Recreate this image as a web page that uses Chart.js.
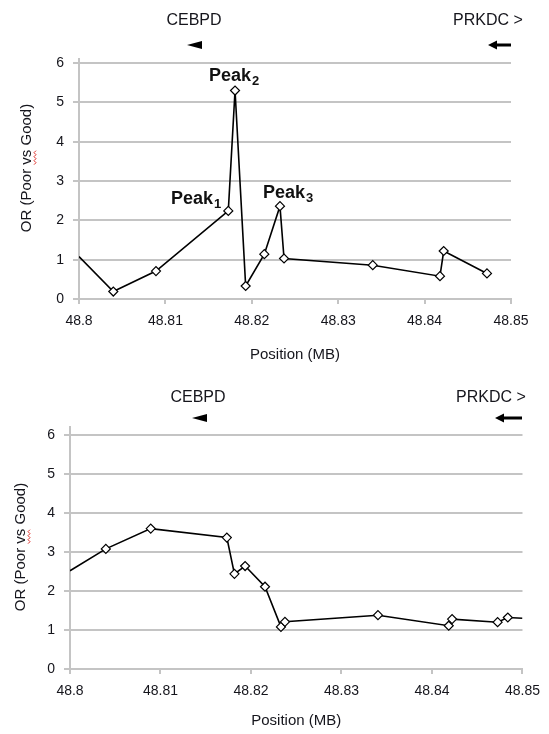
<!DOCTYPE html>
<html>
<head>
<meta charset="utf-8">
<script src="https://cdn.jsdelivr.net/npm/chart.js@4.4.0/dist/chart.umd.min.js"></script>
<style>
  html, body { margin: 0; padding: 0; background: #fff; }
  .panel { position: absolute; left: 0; width: 549px; height: 367px; }
  #panelTop { top: 0; }
  #panelBottom { top: 367px; }
</style>
</head>
<body>
<div class="panel" id="panelTop"><canvas id="chartTop"></canvas></div>
<div class="panel" id="panelBottom"><canvas id="chartBottom"></canvas></div>
<script>
// Posiçăo (Mb) e OR de cada SNP; o primeiro/último ponto fica na borda do eixo
const topPositions = [48.8, 48.80397, 48.80891, 48.81728, 48.81806, 48.81929, 48.82145, 48.82326, 48.82373, 48.8340, 48.84178, 48.84221, 48.84722];
const topOR = [1.08, 0.19, 0.71, 2.24, 5.3, 0.33, 1.14, 2.36, 1.03, 0.86, 0.58, 1.22, 0.65];

const bottomPositions = [48.8, 48.80396, 48.80892, 48.81733, 48.81817, 48.81935, 48.82155, 48.82331, 48.82375, 48.83403, 48.84185, 48.84222, 48.84725, 48.84838, 48.85];
const bottomOR = [2.52, 3.08, 3.60, 3.37, 2.44, 2.64, 2.11, 1.08, 1.21, 1.38, 1.11, 1.28, 1.20, 1.32, 1.30];

// picos marcados no gráfico de cima
const peakIndex = [3, 4, 7];
const peakSub = ['1', '2', '3'];

const xTicks = [48.8, 48.81, 48.82, 48.83, 48.84, 48.85];
const xMin = 48.8, xMax = 48.85;
const yMax = 6;

const geneLeft = 'CEBPD';
const geneRight = 'PRKDC >';
const yTitle = 'OR (Poor vs Good)';
const xTitle = 'Position (MB)';

const FONT = "'Liberation Sans', Arial, sans-serif";
const TEXT = '#15151c';
const GRID = '#c4c4c4';

Chart.defaults.font.family = FONT;
Chart.defaults.color = TEXT;

function drawPeak(ctx, sub, x, y, align) {
    ctx.save();
    ctx.fillStyle = '#111';
    ctx.textBaseline = 'alphabetic';
    ctx.font = 'bold 18px ' + FONT;
    const wMain = ctx.measureText('Peak').width;
    ctx.font = 'bold 13px ' + FONT;
    const wSub = ctx.measureText(sub).width;
    const total = wMain + 1 + wSub;
    let x0 = x;
    if (align === 'right') x0 = x - total;
    if (align === 'center') x0 = x - total / 2;
    ctx.font = 'bold 18px ' + FONT;
    ctx.fillText('Peak', x0, y + 6);
    ctx.font = 'bold 13px ' + FONT;
    ctx.fillText(sub, x0 + wMain + 1, y + 10);
    ctx.restore();
}

function drawYTitle(ctx, cx, cy) {
    ctx.save();
    ctx.translate(cx, cy);
    ctx.rotate(-Math.PI / 2);
    ctx.font = '15px ' + FONT;
    ctx.fillStyle = TEXT;
    ctx.textAlign = 'left';
    ctx.textBaseline = 'middle';
    const full = ctx.measureText(yTitle).width;
    const start = -full / 2;
    ctx.fillText(yTitle, start, 0);
    // sublinhado vermelho ondulado em "vs"
    const pre = ctx.measureText('OR (Poor ').width;
    const w = ctx.measureText('vs').width;
    ctx.strokeStyle = '#e0302a';
    ctx.lineWidth = 1;
    ctx.beginPath();
    let up = true;
    for (let px = start + pre; px <= start + pre + w; px += 2) {
        const py = up ? 7 : 9;
        if (px === start + pre) ctx.moveTo(px, py); else ctx.lineTo(px, py);
        up = !up;
    }
    ctx.stroke();
    ctx.restore();
}

function drawGenes(ctx, g) {
    ctx.save();
    ctx.font = '16px ' + FONT;
    ctx.fillStyle = TEXT;
    ctx.textAlign = 'center';
    ctx.textBaseline = 'middle';
    ctx.fillText(geneLeft, g.leftText, g.textY);
    ctx.fillText(geneRight, g.rightText, g.textY);
    ctx.fillStyle = '#000';
    // ponta de seta (CEBPD)
    ctx.beginPath();
    ctx.moveTo(g.triTip, g.arrowY);
    ctx.lineTo(g.triTip + 15, g.arrowY - 4);
    ctx.lineTo(g.triTip + 15, g.arrowY + 4);
    ctx.closePath();
    ctx.fill();
    // seta (PRKDC)
    ctx.beginPath();
    ctx.moveTo(g.arrowTip, g.arrowY);
    ctx.lineTo(g.arrowTip + 9, g.arrowY - 4.5);
    ctx.lineTo(g.arrowTip + 9, g.arrowY + 4.5);
    ctx.closePath();
    ctx.fill();
    ctx.fillRect(g.arrowTip + 8, g.arrowY - 1.5, g.arrowEnd - g.arrowTip - 8, 3);
    ctx.restore();
}

const decorPlugin = {
    id: 'decor',
    afterDraw(chart, args, opts) {
        const ctx = chart.ctx;
        const area = chart.chartArea;
        // eixo vertical passa um pouco acima da última linha de grade
        ctx.save();
        ctx.strokeStyle = GRID;
        ctx.lineWidth = 2;
        ctx.beginPath();
        ctx.moveTo(area.left, area.top - opts.axisExtra);
        ctx.lineTo(area.left, area.top);
        ctx.stroke();
        ctx.restore();

        drawYTitle(ctx, opts.yTitleX, opts.yTitleY);
        drawGenes(ctx, opts.genes);

        if (opts.peaks) {
            const meta = chart.getDatasetMeta(0);
            const place = [
                { dx: -7, dy: -13, align: 'right' },
                { dx: -1, dy: -16, align: 'center' },
                { dx: -17, dy: -14, align: 'left' }
            ];
            peakIndex.forEach((idx, i) => {
                const pt = meta.data[idx];
                drawPeak(ctx, peakSub[i], pt.x + place[i].dx, pt.y + place[i].dy, place[i].align);
            });
        }
    }
};

function buildChart(canvasId, positions, values, layout, decor) {
    const ctx = document.getElementById(canvasId).getContext('2d');
    return new Chart(ctx, {
        type: 'line',
        data: {
            datasets: [{
                data: positions.map((p, i) => ({ x: p, y: values[i] })),
                borderColor: '#000',
                borderWidth: 1.6,
                tension: 0,
                fill: false,
                pointStyle: 'rectRot',
                pointRadius: (c) => {
                    const p = positions[c.dataIndex];
                    return (p <= xMin || p >= xMax) ? 0 : 4.5;
                },
                pointBackgroundColor: '#fff',
                pointBorderColor: '#000',
                pointBorderWidth: 1.2
            }]
        },
        options: {
            responsive: true,
            maintainAspectRatio: false,
            animation: false,
            layout: { padding: layout.padding },
            plugins: {
                legend: { display: false },
                tooltip: { enabled: false },
                decor: decor
            },
            scales: {
                x: {
                    type: 'linear',
                    min: xMin,
                    max: xMax,
                    afterBuildTicks: (s) => { s.ticks = xTicks.map(v => ({ value: v })); },
                    afterFit: (s) => { s.height = layout.xHeight; },
                    grid: { drawOnChartArea: false, drawTicks: true, tickLength: 5, color: GRID, lineWidth: 2 },
                    border: { display: true, color: GRID, width: 2 },
                    ticks: {
                        padding: 9,
                        color: TEXT,
                        font: { size: 14 },
                        maxRotation: 0,
                        callback: (v) => String(parseFloat(v.toFixed(2)))
                    },
                    title: {
                        display: true,
                        text: xTitle,
                        color: TEXT,
                        font: { size: 15 },
                        padding: { top: 0, bottom: layout.xTitlePad }
                    }
                },
                y: {
                    min: 0,
                    max: yMax,
                    afterFit: (s) => { s.width = layout.yWidth; },
                    grid: { color: GRID, lineWidth: 2, tickLength: 6 },
                    border: { display: true, color: GRID, width: 2 },
                    ticks: { stepSize: 1, padding: 9, color: TEXT, font: { size: 14 } }
                }
            }
        },
        plugins: [decorPlugin]
    });
}

buildChart('chartTop', topPositions, topOR,
    { padding: { left: 0, top: 63, right: 38, bottom: 0 }, yWidth: 79, xHeight: 68, xTitlePad: 3 },
    {
        axisExtra: 5, yTitleX: 27, yTitleY: 168, peaks: true,
        genes: { leftText: 194, rightText: 488, textY: 21, triTip: 187, arrowTip: 488, arrowEnd: 511, arrowY: 45 }
    });

buildChart('chartBottom', bottomPositions, bottomOR,
    { padding: { left: 0, top: 68, right: 25, bottom: 0 }, yWidth: 70, xHeight: 65, xTitlePad: 4 },
    {
        axisExtra: 9, yTitleX: 21, yTitleY: 180, peaks: false,
        genes: { leftText: 198, rightText: 491, textY: 31, triTip: 192, arrowTip: 495, arrowEnd: 522, arrowY: 51 }
    });
</script>
</body>
</html>
